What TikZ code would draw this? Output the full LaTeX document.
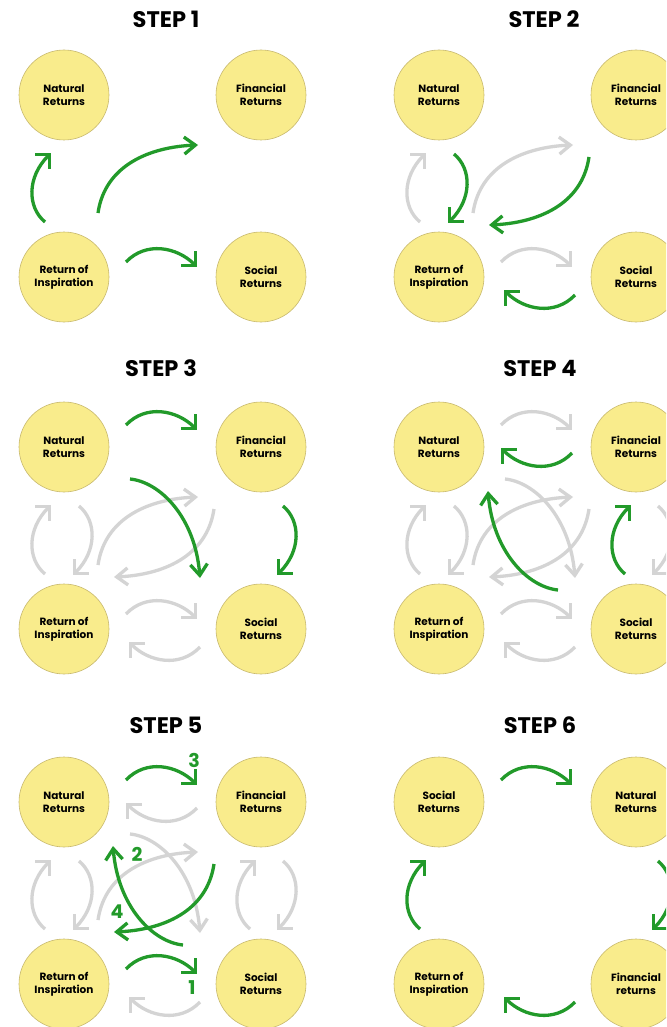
\documentclass[tikz,border=0pt]{standalone}
\usepackage{fontspec}
\setmainfont{Poppins}
\usetikzlibrary{arrows.meta,calc}
\definecolor{cgreen}{HTML}{229A2A}
\definecolor{cgray}{HTML}{D4D4D4}
\definecolor{cyel}{HTML}{F9EC8C}
\definecolor{cedge}{HTML}{C8B96E}
\tikzset{
  ret/.style={circle, fill=cyel, draw=cedge, line width=0.6pt, minimum size=90pt, inner sep=0pt, align=center, font=\bfseries\fontsize{10.5}{13}\selectfont},
  ttl/.style={font=\bfseries\fontsize{22.5}{26}\selectfont},
  num/.style={text=cgreen, font=\bfseries\fontsize{19}{21}\selectfont},
  arrbase/.style={line width=3.3pt},
  gr/.style={arrbase, draw=cgreen},
  gy/.style={arrbase, draw=cgray},
  hs/.style={-{Straight Barb[angle=90:14pt, sharp]}},
  hd/.style={-{Straight Barb[angle=75:14pt, sharp]}},
}
\newcommand\panel[7]{%
  \node[ret] (#1TL) at ({64+#2},{95+#3}) {#4};
  \node[ret] (#1TR) at ({261+#2},{95+#3}) {#5};
  \node[ret] (#1BL) at ({64+#2},{277+#3}) {#6};
  \node[ret] (#1BR) at ({261+#2},{277+#3}) {#7};
}
\newcommand\arrNF[2]{\draw[#1,hs] ($(#2TL.center)+(62,-22)$) .. controls ($(#2TL.center)+(82,-43)$) and ($(#2TR.center)+(-84,-37)$) .. ($(#2TR.center)+(-64,-17)$);}
\newcommand\arrFN[2]{\draw[#1,hs] ($(#2TR.center)+(-64,6)$) .. controls ($(#2TR.center)+(-84,27)$) and ($(#2TL.center)+(82,21)$) .. ($(#2TL.center)+(62,1)$);}
\newcommand\arrRS[2]{\draw[#1,hs] ($(#2BL.center)+(62,-15)$) .. controls ($(#2BL.center)+(82,-36)$) and ($(#2BR.center)+(-84,-30)$) .. ($(#2BR.center)+(-64,-10)$);}
\newcommand\arrSR[2]{\draw[#1,hs] ($(#2BR.center)+(-61,18)$) .. controls ($(#2BR.center)+(-81,39)$) and ($(#2BL.center)+(85,33)$) .. ($(#2BL.center)+(65,13)$);}
\newcommand\arrRN[2]{\draw[#1,hs] ($(#2BL.center)+(-19,-55)$) .. controls ($(#2BL.center)+(-37,-70)$) and ($(#2TL.center)+(-37,82)$) .. ($(#2TL.center)+(-13,58)$);}
\newcommand\arrNR[2]{\draw[#1,hs] ($(#2TL.center)+(15,59)$) .. controls ($(#2TL.center)+(33,74)$) and ($(#2BL.center)+(33,-78)$) .. ($(#2BL.center)+(9,-54)$);}
\newcommand\arrSF[2]{\draw[#1,hs] ($(#2BR.center)+(-11,-55)$) .. controls ($(#2BR.center)+(-29,-70)$) and ($(#2TR.center)+(-29,82)$) .. ($(#2TR.center)+(-5,58)$);}
\newcommand\arrFS[2]{\draw[#1,hs] ($(#2TR.center)+(22,59)$) .. controls ($(#2TR.center)+(40,74)$) and ($(#2BR.center)+(40,-78)$) .. ($(#2BR.center)+(16,-54)$);}
\newcommand\arrRF[2]{\draw[#1,hd] ($(#2BL.center)+(34,-64)$) .. controls ($(#2BL.center)+(41,-112)$) and ($(#2TR.center)+(-111,52)$) .. ($(#2TR.center)+(-63,50)$);}
\newcommand\arrFR[2]{\draw[#1,hd] ($(#2TR.center)+(-47,62)$) .. controls ($(#2TR.center)+(-54,110)$) and ($(#2BL.center)+(98,-54)$) .. ($(#2BL.center)+(50,-52)$);}
\newcommand\arrNS[2]{\draw[#1,hd] ($(#2TL.center)+(66,32)$) .. controls ($(#2TL.center)+(96,35)$) and ($(#2BR.center)+(-66,-112)$) .. ($(#2BR.center)+(-61,-51)$);}
\newcommand\arrSN[2]{\draw[#1,hd] ($(#2BR.center)+(-78,-39)$) .. controls ($(#2BR.center)+(-108,-42)$) and ($(#2TL.center)+(54,105)$) .. ($(#2TL.center)+(49,44)$);}
\begin{document}
\begin{tikzpicture}[x=1pt,y=-1pt]
\clip (0,0) rectangle (666,1027);
\fill[white] (0,0) rectangle (666,1027);
% titles
\node[ttl] (t1) at (166,19) {STEP 1};
\node[ttl] (t2) at (544,19) {STEP 2};
\node[ttl] (t3) at (161,368) {STEP 3};
\node[ttl] (t4) at (540,368) {STEP 4};
\node[ttl] (t5) at (166,725.5) {STEP 5};
\node[ttl] (t6) at (540,725.5) {STEP 6};
% panels
\panel{a}{0}{0}{Natural\\Returns}{Financial\\Returns}{Return of\\Inspiration}{Social\\Returns}
\panel{b}{375}{0}{Natural\\Returns}{Financial\\Returns}{Return of\\Inspiration}{Social\\Returns}
\panel{c}{0}{352}{Natural\\Returns}{Financial\\Returns}{Return of\\Inspiration}{Social\\Returns}
\panel{d}{375}{352}{Natural\\Returns}{Financial\\Returns}{Return of\\Inspiration}{Social\\Returns}
\panel{e}{0}{707}{Natural\\Returns}{Financial\\Returns}{Return of\\Inspiration}{Social\\Returns}
\panel{f}{375}{707}{Social\\Returns}{Natural\\Returns}{Return of\\Inspiration}{Financial\\returns}
% step 1
\arrRN{gr}{a}\arrRF{gr}{a}\arrRS{gr}{a}
% step 2
\arrRN{gy}{b}\arrRF{gy}{b}\arrRS{gy}{b}
\arrNR{gr}{b}\arrFR{gr}{b}\arrSR{gr}{b}
% step 3
\arrRN{gy}{c}\arrRF{gy}{c}\arrRS{gy}{c}\arrNR{gy}{c}\arrFR{gy}{c}\arrSR{gy}{c}
\arrNF{gr}{c}\arrNS{gr}{c}\arrFS{gr}{c}
% step 4
\arrRN{gy}{d}\arrRF{gy}{d}\arrRS{gy}{d}\arrNR{gy}{d}\arrFR{gy}{d}\arrSR{gy}{d}
\arrNF{gy}{d}\arrNS{gy}{d}\arrFS{gy}{d}
\arrFN{gr}{d}\arrSN{gr}{d}\arrSF{gr}{d}
% step 5
\arrRN{gy}{e}\arrNR{gy}{e}\arrSF{gy}{e}\arrFS{gy}{e}\arrRF{gy}{e}\arrNS{gy}{e}\arrFN{gy}{e}\arrSR{gy}{e}
\arrRS{gr}{e}\arrSN{gr}{e}\arrNF{gr}{e}\arrFR{gr}{e}
\node[num] (n3) at ($(eTL.center)+(130,-42)$) {3};
\node[num] (n2) at ($(eTL.center)+(73,52)$) {2};
\node[num] (n4) at ($(eBL.center)+(53,-72)$) {4};
\node[num] (n1) at ($(eBR.center)+(-69,4)$) {1};
% step 6
\arrNF{gr}{f}\arrFS{gr}{f}\arrSR{gr}{f}\arrRN{gr}{f}
\end{tikzpicture}
\end{document}
